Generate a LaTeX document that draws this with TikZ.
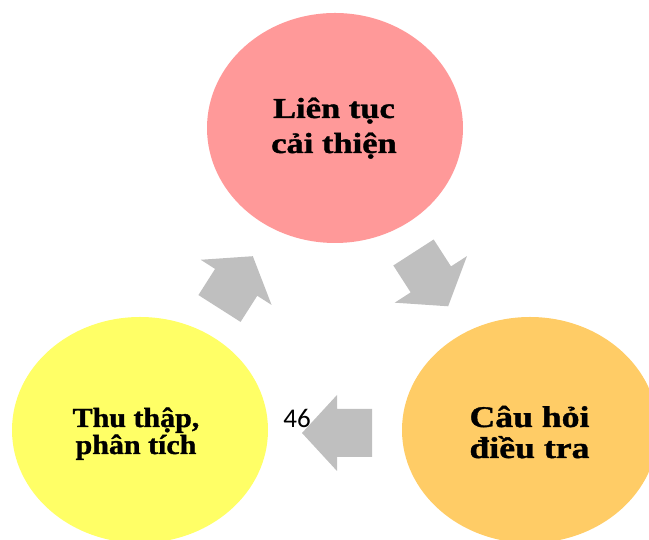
\documentclass[tikz,border=0pt]{standalone}
\usepackage{fontspec}
\setmainfont{Liberation Serif}
\newfontfamily\widefont[FakeStretch=1.19, BoldFeatures={FakeBold=1.2}]{Liberation Serif}
\newfontfamily\semiwidefont[FakeStretch=1.09, BoldFeatures={FakeBold=1.2}]{Liberation Serif}
\newfontfamily\numfont{Carlito}
\usetikzlibrary{shapes.geometric}
\definecolor{pinkfill}{RGB}{255,153,153}
\definecolor{yellowfill}{RGB}{255,255,102}
\definecolor{orangefill}{RGB}{255,204,102}
\definecolor{arrowgray}{RGB}{191,191,191}

\begin{document}
\begin{tikzpicture}[x=1pt,y=1pt,
  stage/.style={ellipse, draw=none, minimum width=256pt, minimum height=226pt, inner sep=0pt},
  label/.style={anchor=base, inner sep=0pt},
  blockarrow/.style={fill=arrowgray, draw=none}]
\useasboundingbox (0,0) rectangle (649,540);
\clip (0,0) rectangle (649,540);

% the three stages of the cycle
\node[stage, fill=pinkfill, minimum height=230pt] (improve) at (335,412) {};
\node[stage, fill=orangefill] (question) at (530,110) {};
\node[stage, fill=yellowfill] (collect) at (140,110) {};

% stage labels, one node per line
\begin{scope}[every node/.append style={font=\widefont\bfseries\fontsize{29}{35}\selectfont}]
  \node[label] (improve-a) at (334,422) {Liên tục};
  \node[label] (improve-b) at (334,387) {cải thiện};
\end{scope}
\begin{scope}[every node/.append style={font=\widefont\bfseries\fontsize{30}{31}\selectfont}]
  \node[label] (question-a) at (529.5,113) {Câu hỏi};
  \node[label] (question-b) at (529.5,82) {điều tra};
\end{scope}
\begin{scope}[every node/.append style={font=\semiwidefont\bfseries\fontsize{27.5}{27}\selectfont}]
  \node[label] (collect-a) at (136,113) {Thu thập,};
  \node[label] (collect-b) at (136,86) {phân tích};
\end{scope}

% block arrows between the stages
\fill[blockarrow, shift={(219.5,231.5)}, rotate=57.5]
  (0,-25) -- (31,-25) -- (31,-42) -- (62,0) -- (31,42) -- (31,25) -- (0,25) -- cycle;
\fill[blockarrow, shift={(413.5,287.5)}, rotate=-57.2]
  (0,-24) -- (32,-24) -- (32,-43) -- (64,0) -- (32,43) -- (32,24) -- (0,24) -- cycle;
\fill[blockarrow, shift={(372,107)}, rotate=180]
  (0,-24) -- (35,-24) -- (35,-38) -- (70,0) -- (35,38) -- (35,24) -- (0,24) -- cycle;

% page number
\node[label, font=\numfont\fontsize{27}{27}\selectfont] (pagenum) at (297,112) {46};
\end{tikzpicture}
\end{document}
